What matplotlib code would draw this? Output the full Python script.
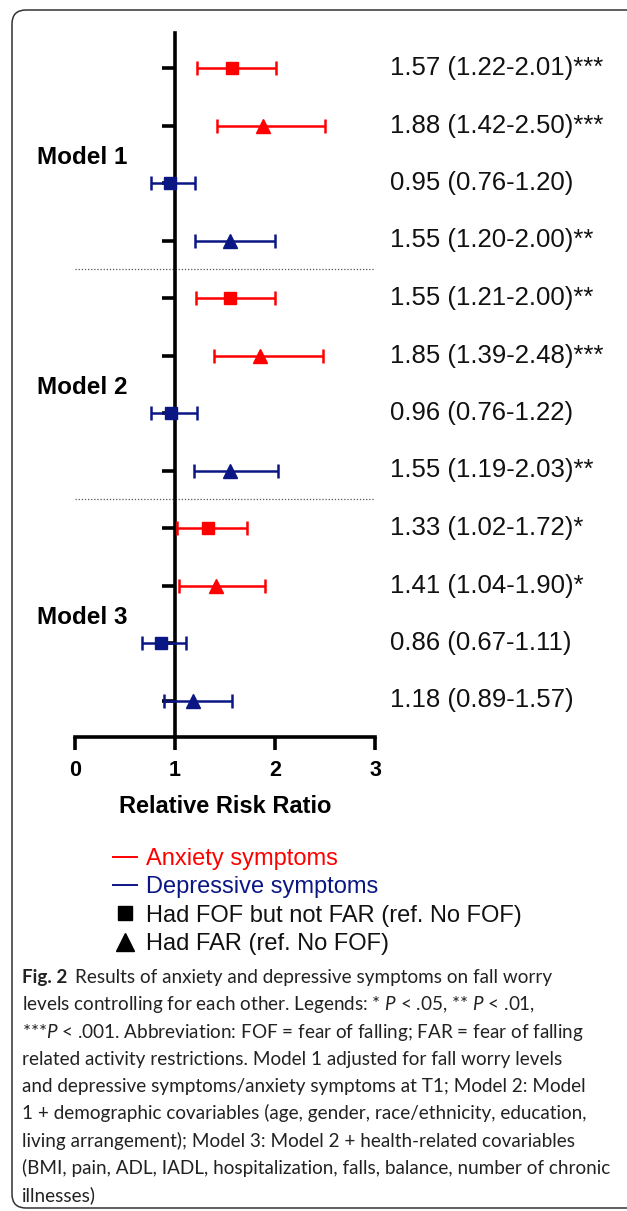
import matplotlib
matplotlib.use("Agg")
import matplotlib.pyplot as plt
from matplotlib.patches import FancyBboxPatch
from matplotlib.lines import Line2D

plt.rcParams['font.family'] = ['Liberation Sans', 'DejaVu Sans']
plt.rcParams['mathtext.fontset'] = 'custom'
plt.rcParams['mathtext.rm'] = 'Lato'
plt.rcParams['mathtext.it'] = 'Lato:italic'
plt.rcParams['mathtext.bf'] = 'Lato:bold'

# relative risk ratio, 95% CI, significance, one row per estimate (top to bottom)
rr = [1.57, 1.88, 0.95, 1.55, 1.55, 1.85, 0.96, 1.55, 1.33, 1.41, 0.86, 1.18]
lo = [1.22, 1.42, 0.76, 1.20, 1.21, 1.39, 0.76, 1.19, 1.02, 1.04, 0.67, 0.89]
hi = [2.01, 2.50, 1.20, 2.00, 2.00, 2.48, 1.22, 2.03, 1.72, 1.90, 1.11, 1.57]
sig = ['***', '***', '', '**', '**', '***', '', '**', '*', '*', '', '']
symptom = ['anx', 'anx', 'dep', 'dep'] * 3
group = ['fof', 'far', 'fof', 'far'] * 3
models = ['Model 1', 'Model 2', 'Model 3']
xticks = [0, 1, 2, 3]

colors = {'anx': '#ff0000', 'dep': '#0b1685'}
markers = {'fof': 's', 'far': '^'}
msize = {'fof': 9, 'far': 10}

W, H = 627, 1211
fig = plt.figure(figsize=(W / 100, H / 100), dpi=100)

# background axes in pixel units for frame, labels and caption
bg = fig.add_axes([0, 0, 1, 1])
bg.set_xlim(0, W)
bg.set_ylim(H, 0)
bg.axis('off')
bg.add_patch(FancyBboxPatch((12, 10), 650, 1198, boxstyle='round,pad=0,rounding_size=14',
                            fc='none', ec='#333333', lw=1.1, clip_on=False))

# forest plot axes
top_px, bot_px, row0, dy = 33, 737, 68, 57.5
ax = fig.add_axes([75 / W, 1 - bot_px / H, 300 / W, (bot_px - top_px) / H])
ax.set_zorder(2)
ax.patch.set_alpha(0)
ax.set_xlim(0, 3)
ax.set_ylim((bot_px - row0) / dy, (top_px - row0) / dy)

for sp in ['top', 'right']:
    ax.spines[sp].set_visible(False)
ax.spines['left'].set_position(('data', 1))
ax.spines['left'].set_linewidth(2.6)
ax.spines['bottom'].set_linewidth(2.6)

n = len(rr)
ax.set_yticks(range(n))
ax.set_yticklabels([])
ax.tick_params(axis='y', direction='out', length=9.5, width=2.6)
ax.set_xticks(xticks)
ax.set_xticklabels([str(t) for t in xticks], fontsize=15.5, fontweight='bold')
ax.tick_params(axis='x', direction='out', length=9.5, width=2.6, pad=7)
ax.set_xlabel('Relative Risk Ratio', fontsize=17, fontweight='bold', labelpad=10)

for i in range(n):
    c = colors[symptom[i]]
    ax.errorbar(rr[i], i, xerr=[[rr[i] - lo[i]], [hi[i] - rr[i]]], fmt=markers[group[i]],
                color=c, ms=msize[group[i]], elinewidth=1.8, capsize=4.7, capthick=1.8,
                zorder=4, clip_on=False)
    ax.text(3.15, i, f'{rr[i]:.2f} ({lo[i]:.2f}-{hi[i]:.2f}){sig[i]}', fontsize=18.5,
            va='center', ha='left', color='#111111', clip_on=False)

for yb in [3.5, 7.5]:
    ax.plot([0, 3], [yb, yb], ls=(0, (1, 1.5)), color='#555555', lw=0.9, clip_on=False)

for k, m in enumerate(models):
    bg.text(37, row0 + dy * (4 * k + 1.55), m, fontsize=17.5, fontweight='bold',
            va='center', ha='left')

# legend
handles = [Line2D([], [], color=colors['anx'], lw=1.4),
           Line2D([], [], color=colors['dep'], lw=1.4),
           Line2D([], [], color='k', marker='s', ls='none', ms=10),
           Line2D([], [], color='k', marker='^', ls='none', ms=13)]
labels = ['Anxiety symptoms', 'Depressive symptoms',
          'Had FOF but not FAR (ref. No FOF)', 'Had FAR (ref. No FOF)']
leg = bg.legend(handles, labels, loc='upper left', bbox_to_anchor=(113, 848),
                bbox_transform=bg.transData, frameon=False, fontsize=17,
                handlelength=1.0, handletextpad=0.4, labelspacing=0.27, borderpad=0,
                borderaxespad=0)
for t, c in zip(leg.get_texts(), [colors['anx'], colors['dep'], '#111111', '#111111']):
    t.set_color(c)

# caption
caption = [
    'Results of anxiety and depressive symptoms on fall worry',
    r'levels controlling for each other. Legends: * $P$ < .05, ** $P$ < .01,',
    r'***$P$ < .001. Abbreviation: FOF = fear of falling; FAR = fear of falling',
    'related activity restrictions. Model 1 adjusted for fall worry levels',
    'and depressive symptoms/anxiety symptoms at T1; Model 2: Model',
    '1 + demographic covariables (age, gender, race/ethnicity, education,',
    'living arrangement); Model 3: Model 2 + health-related covariables',
    '(BMI, pain, ADL, IADL, hospitalization, falls, balance, number of chronic',
    'illnesses)',
]
cap_fs = 13.6
figlab = bg.text(22, 983, 'Fig. 2', fontsize=cap_fs, family='Lato', fontweight='bold',
                 color='#222222', va='baseline', ha='left')
fig.canvas.draw()
ext = figlab.get_window_extent(fig.canvas.get_renderer())
x_after = ext.x1 + 8
for j, line in enumerate(caption):
    x0 = x_after if j == 0 else 22
    bg.text(x0, 983 + 27.3 * j, line, fontsize=cap_fs, family='Lato', color='#222222',
            va='baseline', ha='left')

fig.savefig('out.png', dpi=100)
